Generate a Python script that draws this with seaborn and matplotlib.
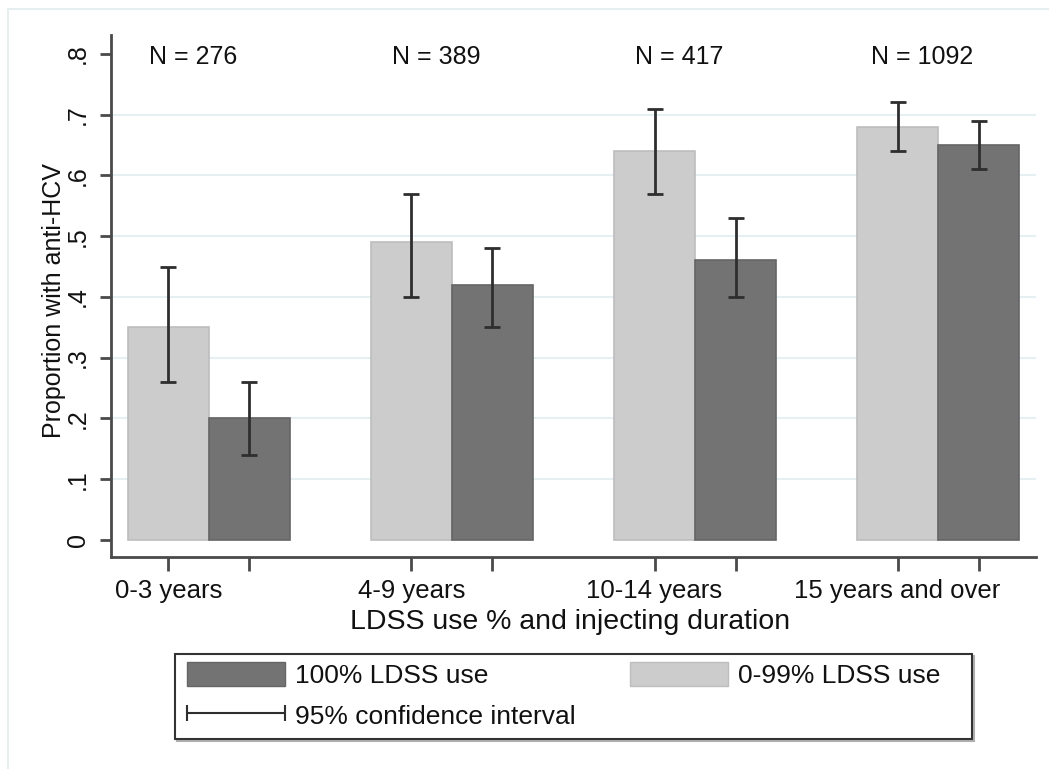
import numpy as np
import pandas as pd
import seaborn as sns
import matplotlib
matplotlib.use("Agg")
import matplotlib.pyplot as plt
from matplotlib.patches import Patch, Rectangle
from matplotlib.lines import Line2D
from matplotlib.legend_handler import HandlerLine2D

# ---- data ----
durations = ["0-3 years", "4-9 years", "10-14 years", "15 years and over"]
n_labels = ["N = 276", "N = 389", "N = 417", "N = 1092"]
groups = ["0-99% LDSS use", "100% LDSS use"]
partial_prop = [0.35, 0.49, 0.64, 0.68]
partial_lo = [0.26, 0.40, 0.57, 0.64]
partial_hi = [0.45, 0.57, 0.71, 0.72]
full_prop = [0.20, 0.42, 0.46, 0.65]
full_lo = [0.14, 0.35, 0.40, 0.61]
full_hi = [0.26, 0.48, 0.53, 0.69]
y_ticks = [0, 0.1, 0.2, 0.3, 0.4, 0.5, 0.6, 0.7, 0.8]
y_ticklabels = ["0", ".1", ".2", ".3", ".4", ".5", ".6", ".7", ".8"]
colors = {"0-99% LDSS use": "#cccccc", "100% LDSS use": "#737373"}
edges = {"0-99% LDSS use": "#bdbdbd", "100% LDSS use": "#656565"}

sns.set_theme(style="white")
plt.rcParams["font.family"] = ["Liberation Sans", "DejaVu Sans"]

df = pd.DataFrame({
    "duration": durations * 2,
    "prop": partial_prop + full_prop,
    "lo": partial_lo + full_lo,
    "hi": partial_hi + full_hi,
    "group": [groups[0]] * 4 + [groups[1]] * 4,
})

W, H = 1049, 769
fig = plt.figure(figsize=(W / 100, H / 100), dpi=100)
fig.patch.set_facecolor("white")
ax = fig.add_axes([111 / W, 1 - 557 / H, (1036 - 111) / W, (557 - 35) / H])

sns.barplot(data=df, x="duration", y="prop", hue="group", order=durations,
            hue_order=groups, palette=colors, width=2 / 3, saturation=1,
            errorbar=None, legend=False, ax=ax, linewidth=1.2)

# edge colours + error bars
bar_centers = {}
for k, p in enumerate(ax.patches[:8]):
    g = groups[k // 4]
    d = durations[k % 4]
    p.set_edgecolor(edges[g])
    cx = p.get_x() + p.get_width() / 2
    bar_centers[(g, d)] = cx
    row = df[(df.group == g) & (df.duration == d)].iloc[0]
    ax.errorbar(cx, row.prop, yerr=[[row.prop - row.lo], [row.hi - row.prop]],
                fmt="none", ecolor="#2e2e2e", elinewidth=2, capsize=5.5,
                capthick=2, zorder=5)

ax.set_xlim(-0.403, 3.403)
ax.set_ylim(-0.028, 0.831)

# ticks
xt = sorted(bar_centers.values())
ax.set_xticks(xt)
ax.set_xticklabels([durations[i // 2] if i % 2 == 0 else "" for i in range(8)],
                   fontsize=18.5)
ax.set_yticks(y_ticks)
ax.set_yticklabels(y_ticklabels, fontsize=18, rotation=90, va="center")
ax.tick_params(axis="y", length=8, width=2, color="#4a4a4a", pad=7,
               labelcolor="#111111", left=True)
ax.tick_params(axis="x", length=10, width=2, color="#4a4a4a", pad=6,
               labelcolor="#111111", bottom=True)

for s in ["top", "right"]:
    ax.spines[s].set_visible(False)
for s in ["left", "bottom"]:
    ax.spines[s].set_color("#4a4a4a")
    ax.spines[s].set_linewidth(2)

# grid
ax.set_axisbelow(True)
ax.yaxis.grid(True, color="#e6eff1", linewidth=1.5)
for t, v in zip(ax.yaxis.get_major_ticks(), y_ticks):
    if v in (y_ticks[0], y_ticks[-1]):
        t.gridline.set_visible(False)

# labels
ax.set_ylabel("Proportion with anti-HCV", fontsize=18, color="#111111")
ax.yaxis.set_label_coords(-0.0486, 0.492)
ax.set_xlabel("LDSS use % and injecting duration", fontsize=20.5, color="#111111")
ax.xaxis.set_label_coords(0.496, -0.0996)

# N labels
for i, lab in enumerate(n_labels):
    ax.text(i - 0.065, 0.783, lab, ha="center", va="baseline", fontsize=18,
            color="#111111")

# legend frame (with small shadow)
fig.add_artist(Rectangle((177 / W, 1 - 741 / H), (972 - 175) / W, (739 - 654) / H,
                         transform=fig.transFigure, facecolor="none",
                         edgecolor="#b0b0b0", lw=1.5, zorder=1))
fig.add_artist(Rectangle((175 / W, 1 - 739 / H), (972 - 175) / W, (739 - 654) / H,
                         transform=fig.transFigure, facecolor="white",
                         edgecolor="#333333", lw=1.5, zorder=2))

handles = [
    Patch(facecolor=colors[groups[1]], edgecolor=edges[groups[1]], label=groups[1]),
    Line2D([], [], color="#2e2e2e", lw=1.5, marker="|", markersize=12,
           markeredgewidth=1.5, label="95% confidence interval"),
    Patch(facecolor=colors[groups[0]], edgecolor=edges[groups[0]], label=groups[0]),
]
leg = fig.legend(handles=handles, ncol=2, loc="upper left",
                 bbox_to_anchor=(187 / W, 1 - 662 / H),
                 fontsize=19, frameon=False,
                 handlelength=3.71, handleheight=1.02, handletextpad=0.38,
                 labelspacing=0.55, borderpad=0, borderaxespad=0,
                 columnspacing=2.05,
                 handler_map={Line2D: HandlerLine2D(marker_pad=0, numpoints=2)})
leg.set_zorder(3)
for t in leg.get_texts():
    t.set_color("#111111")

# faint outer frame
fig.add_artist(Line2D([8 / W, 8 / W], [0, 1 - 9 / H], transform=fig.transFigure,
                      color="#e6eef0", lw=1.5))
fig.add_artist(Line2D([8 / W, 1], [1 - 9 / H, 1 - 9 / H], transform=fig.transFigure,
                      color="#e6eef0", lw=1.5))

fig.savefig("out.png", dpi=100, facecolor="white")
